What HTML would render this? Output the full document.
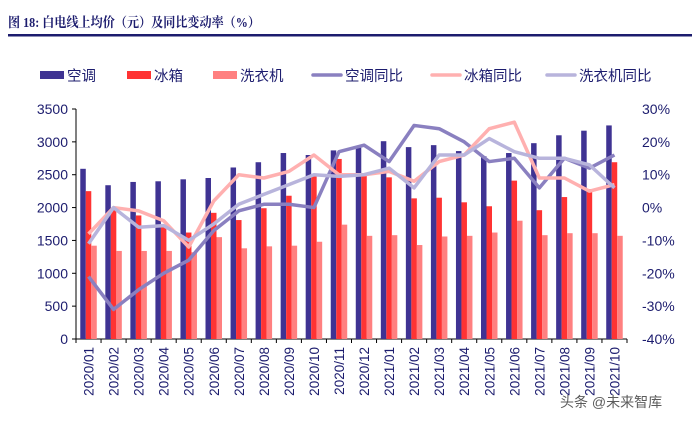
<!DOCTYPE html>
<html><head><meta charset="utf-8"><style>
body{margin:0;background:#fff;width:700px;height:423px;overflow:hidden;font-family:"Liberation Sans","Noto Sans CJK SC",sans-serif}
</style></head><body>
<svg id="c" width="700" height="423" xmlns="http://www.w3.org/2000/svg">
<text x="8" y="27" font-family="'Liberation Serif','Noto Serif CJK SC',serif" font-weight="bold" font-size="13.5" fill="#1c1c6e" textLength="252" lengthAdjust="spacingAndGlyphs">图 18:  白电线上均价（元）及同比变动率（%）</text>
<rect x="8" y="34" width="684" height="2.5" fill="#1c1c6e"/>
<g id="legend" font-family="'Liberation Sans','Noto Sans CJK SC',sans-serif" font-size="14.5" fill="#1c1c6e"></g>
<g id="plot"></g>
<text x="560" y="407" font-size="14" fill="#333" opacity="0.8" font-family="'Liberation Sans','Noto Sans CJK SC',sans-serif">头条 @未来智库</text>
</svg>
<script>
const categories=["2020/01","2020/02","2020/03","2020/04","2020/05","2020/06","2020/07","2020/08","2020/09","2020/10","2020/11","2020/12","2021/01","2021/02","2021/03","2021/04","2021/05","2021/06","2021/07","2021/08","2021/09","2021/10"];
const acPrice=[2590,2340,2390,2400,2430,2450,2610,2690,2830,2800,2870,2930,3010,2920,2950,2860,2780,2830,2980,3100,3170,3250];
const fridgePrice=[2250,1980,1880,1700,1620,1920,1810,1990,2180,2500,2740,2520,2460,2140,2150,2080,2020,2410,1960,2160,2280,2690];
const washerPrice=[1420,1340,1340,1340,1320,1550,1380,1410,1420,1480,1740,1570,1580,1430,1560,1570,1620,1800,1580,1610,1610,1570];
const acYoY=[-21,-31,-25,-20,-16,-7,-1,1,1,0,17,19,14,25,24,20,14,15,6,15,12,16];
const fridgeYoY=[-8,0,-1,-4,-12,2,10,9,11,16,10,10,11,8,14,16,24,26,9,9,5,7];
const washerYoY=[-11,0,-6,-5.5,-10,-5,1,4,7,10,9.5,10,12,6,16,16,21,17,15,15,13,6];
const leftTicks=[0,500,1000,1500,2000,2500,3000,3500];
const rightTicks=[-40,-30,-20,-10,0,10,20,30];
const names=["空调","冰箱","洗衣机","空调同比","冰箱同比","洗衣机同比"];

const NS="http://www.w3.org/2000/svg";
const X0=76,X1=627,YT=109,YB=339;
const step=(X1-X0)/categories.length;
const xc=i=>X0+step*(i+0.5);
const yL=v=>YB-(v/3500)*(YB-YT);
const yR=v=>YB-((v+40)/70)*(YB-YT);
const plot=document.getElementById('plot');
function mk(tag,attrs,parent){const e=document.createElementNS(NS,tag);for(const k in attrs)e.setAttribute(k,attrs[k]);(parent||plot).appendChild(e);return e;}
const cols=["#3f3393","#ff3333","#ff8080","#8a80c0","#ffb0b0","#b8b4dc"];
let a=mk('line',{x1:X0,y1:YT,x2:X0,y2:YB,stroke:'#000','stroke-width':1});


a=mk('line',{x1:X0,y1:YB,x2:X1,y2:YB,stroke:'#000','stroke-width':1});


leftTicks.forEach(v=>{
 mk('line',{x1:X0-4,y1:yL(v),x2:X0,y2:yL(v),stroke:'#000'});
 const t=mk('text',{x:X0-8,y:yL(v)+5,'text-anchor':'end','font-size':14,fill:'#1c1c6e'});t.textContent=v;
 
 
});
rightTicks.forEach(v=>{
 const t=mk('text',{x:642,y:yR(v)+5,'font-size':14,fill:'#1c1c6e'});t.textContent=v+'%';
 
 
});
const bw=5.5;
categories.forEach((c,i)=>{
 mk('line',{x1:X0+step*i,y1:YB,x2:X0+step*i,y2:YB+4,stroke:'#000'});
 [acPrice,fridgePrice,washerPrice].forEach((s,k)=>{
  const r=mk('rect',{x:xc(i)-bw*1.5+k*bw,y:yL(s[i]),width:bw,height:YB-yL(s[i]),fill:cols[k]});
  
  
 });
 const t=mk('text',{x:0,y:0,'text-anchor':'end','font-size':13.5,fill:'#1c1c6e',transform:`translate(${xc(i)+5},${YB+8}) rotate(-90)`});t.textContent=c;
 
 
});
mk('line',{x1:X1,y1:YB,x2:X1,y2:YB+4,stroke:'#000'});
[acYoY,fridgeYoY,washerYoY].forEach((s,k)=>{
 const p=mk('polyline',{points:s.map((v,i)=>xc(i)+','+yR(v)).join(' '),fill:'none',stroke:cols[k+3],'stroke-width':3.5,'stroke-linejoin':'round'});
 
 
});
const lg=document.getElementById('legend');
const lx=[40,127,213,313,432,547];
names.forEach((n,k)=>{
 const g=mk('g',{},lg);
 
 
 if(k<3) mk('rect',{x:lx[k],y:71,width:24,height:8,fill:cols[k]},g);
 else mk('line',{x1:lx[k],y1:75,x2:lx[k]+28,y2:75,stroke:cols[k],'stroke-width':3.5,'stroke-linecap':'round'},g);
 const t=mk('text',{x:lx[k]+(k<3?27:32),y:81},g);t.textContent=n;
});
</script>
</body></html>
